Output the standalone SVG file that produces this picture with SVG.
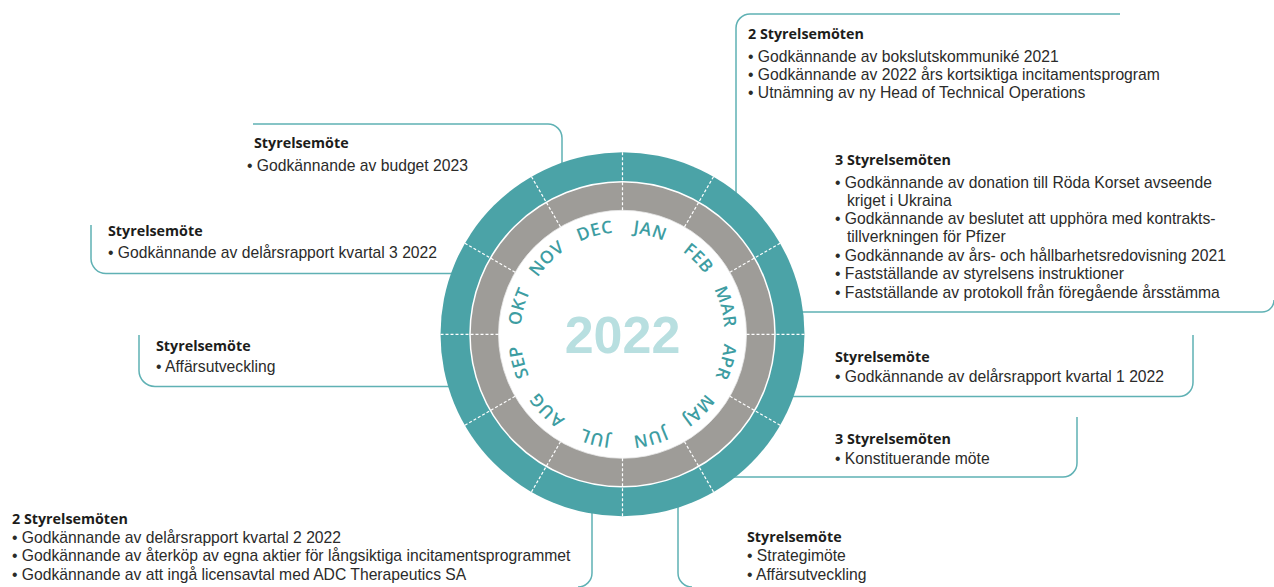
<svg xmlns="http://www.w3.org/2000/svg" width="1274" height="587" viewBox="0 0 1274 587">
<style>
.conn{fill:none;stroke:#5fb1b4;stroke-width:1.5}
.h{font-family:"Open Sans","Liberation Sans",sans-serif;font-weight:700;font-size:14.3px;fill:#1d1d1b}
.b{font-family:"Liberation Sans",Arial,sans-serif;font-weight:400;font-size:15.7px;fill:#2b2b2a}
.mon{font-family:"Open Sans","Liberation Sans",sans-serif;font-weight:600;font-size:17.5px;fill:#3d9da2;letter-spacing:0.5px}
.yr{font-family:"Liberation Sans",Arial,sans-serif;font-weight:700;font-size:52px;fill:#b8dfe0}
.dash{stroke:#ffffff;stroke-width:1.2;stroke-dasharray:3 2}
</style>
<defs>
<path id="mpath" d="M622.5,232.3 A102,102 0 1 1 622.5,436.3 A102,102 0 1 1 622.5,232.3"/>
</defs>
<g id="connectors">
<path class="conn" d="M736,300 V28 A14,14 0 0 1 750,14 H1120"/>
<path class="conn" d="M700,312 H1262 A12,12 0 0 0 1274,300"/>
<path class="conn" d="M700,396.5 H1179 A14,14 0 0 0 1193,382.5 V335"/>
<path class="conn" d="M700,477 H1063 A14,14 0 0 0 1077,463 V417"/>
<path class="conn" d="M678,400 V573 A14,14 0 0 0 692,587"/>
<path class="conn" d="M592,400 V573 A14,14 0 0 1 578,587"/>
<path class="conn" d="M139,335 V370 A16,16 0 0 0 155,386.5 H560"/>
<path class="conn" d="M91,225 V258 A15,15 0 0 0 106,273.5 H560"/>
<path class="conn" d="M253,124 H548 A14,14 0 0 1 562,138 V300"/>
</g>
<g id="wheel">
<circle cx="622.5" cy="334.3" r="182" fill="#4ba3a7"/>
<circle cx="622.5" cy="334.3" r="152.5" fill="#9e9c98" stroke="#ffffff" stroke-width="1.5"/>
<circle cx="622.5" cy="334.3" r="124" fill="#ffffff" stroke="#e8e8e8" stroke-width="0.8"/>
<g transform="translate(622.5 334.3)">
<line class="dash" x1="0" y1="-124" x2="0" y2="-182" transform="rotate(0)"/>
<line class="dash" x1="0" y1="-124" x2="0" y2="-182" transform="rotate(30)"/>
<line class="dash" x1="0" y1="-124" x2="0" y2="-182" transform="rotate(60)"/>
<line class="dash" x1="0" y1="-124" x2="0" y2="-182" transform="rotate(90)"/>
<line class="dash" x1="0" y1="-124" x2="0" y2="-182" transform="rotate(120)"/>
<line class="dash" x1="0" y1="-124" x2="0" y2="-182" transform="rotate(150)"/>
<line class="dash" x1="0" y1="-124" x2="0" y2="-182" transform="rotate(180)"/>
<line class="dash" x1="0" y1="-124" x2="0" y2="-182" transform="rotate(210)"/>
<line class="dash" x1="0" y1="-124" x2="0" y2="-182" transform="rotate(240)"/>
<line class="dash" x1="0" y1="-124" x2="0" y2="-182" transform="rotate(270)"/>
<line class="dash" x1="0" y1="-124" x2="0" y2="-182" transform="rotate(300)"/>
<line class="dash" x1="0" y1="-124" x2="0" y2="-182" transform="rotate(330)"/>
</g>
<text class="mon"><textPath href="#mpath" startOffset="4.1667%" text-anchor="middle">JAN</textPath></text>
<text class="mon"><textPath href="#mpath" startOffset="12.5%" text-anchor="middle">FEB</textPath></text>
<text class="mon"><textPath href="#mpath" startOffset="20.8333%" text-anchor="middle">MAR</textPath></text>
<text class="mon"><textPath href="#mpath" startOffset="29.1667%" text-anchor="middle">APR</textPath></text>
<text class="mon"><textPath href="#mpath" startOffset="37.5%" text-anchor="middle">MAJ</textPath></text>
<text class="mon"><textPath href="#mpath" startOffset="45.8333%" text-anchor="middle">JUN</textPath></text>
<text class="mon"><textPath href="#mpath" startOffset="54.1667%" text-anchor="middle">JUL</textPath></text>
<text class="mon"><textPath href="#mpath" startOffset="62.5%" text-anchor="middle">AUG</textPath></text>
<text class="mon"><textPath href="#mpath" startOffset="70.8333%" text-anchor="middle">SEP</textPath></text>
<text class="mon"><textPath href="#mpath" startOffset="79.1667%" text-anchor="middle">OKT</textPath></text>
<text class="mon"><textPath href="#mpath" startOffset="87.5%" text-anchor="middle">NOV</textPath></text>
<text class="mon"><textPath href="#mpath" startOffset="95.8333%" text-anchor="middle">DEC</textPath></text>
<text class="yr" x="622.5" y="353" text-anchor="middle">2022</text>
</g>
<g id="box-jan">
<text class="h" x="748" y="38.5">2 Styrelsemöten</text>
<text class="b" x="748" y="62">• Godkännande av bokslutskommuniké 2021</text>
<text class="b" x="748" y="80">• Godkännande av 2022 års kortsiktiga incitamentsprogram</text>
<text class="b" x="748" y="98">• Utnämning av ny Head of Technical Operations</text>
</g>
<g id="box-mar">
<text class="h" x="835" y="164.5">3 Styrelsemöten</text>
<text class="b" x="835" y="188">• Godkännande av donation till Röda Korset avseende</text>
<text class="b" x="847" y="206">kriget i Ukraina</text>
<text class="b" x="835" y="224">• Godkännande av beslutet att upphöra med kontrakts-</text>
<text class="b" x="847" y="242">tillverkningen för Pfizer</text>
<text class="b" x="835" y="261">• Godkännande av års- och hållbarhetsredovisning 2021</text>
<text class="b" x="835" y="279">• Fastställande av styrelsens instruktioner</text>
<text class="b" x="835" y="298">• Fastställande av protokoll från föregående årsstämma</text>
</g>
<g id="box-apr">
<text class="h" x="835" y="361.5">Styrelsemöte</text>
<text class="b" x="835" y="382">• Godkännande av delårsrapport kvartal 1 2022</text>
</g>
<g id="box-maj">
<text class="h" x="835" y="443.5">3 Styrelsemöten</text>
<text class="b" x="835" y="464">• Konstituerande möte</text>
</g>
<g id="box-jun">
<text class="h" x="747" y="542">Styrelsemöte</text>
<text class="b" x="747" y="561">• Strategimöte</text>
<text class="b" x="747" y="580">• Affärsutveckling</text>
</g>
<g id="box-aug">
<text class="h" x="12" y="524">2 Styrelsemöten</text>
<text class="b" x="12" y="543">• Godkännande av delårsrapport kvartal 2 2022</text>
<text class="b" x="12" y="561">• Godkännande av återköp av egna aktier för långsiktiga incitamentsprogrammet</text>
<text class="b" x="12" y="580">• Godkännande av att ingå licensavtal med ADC Therapeutics SA</text>
</g>
<g id="box-sep">
<text class="h" x="156" y="351">Styrelsemöte</text>
<text class="b" x="156" y="372">• Affärsutveckling</text>
</g>
<g id="box-okt">
<text class="h" x="108" y="236">Styrelsemöte</text>
<text class="b" x="108" y="258">• Godkännande av delårsrapport kvartal 3 2022</text>
</g>
<g id="box-dec">
<text class="h" x="254" y="148">Styrelsemöte</text>
<text class="b" x="247" y="171">• Godkännande av budget 2023</text>
</g>
</svg>
